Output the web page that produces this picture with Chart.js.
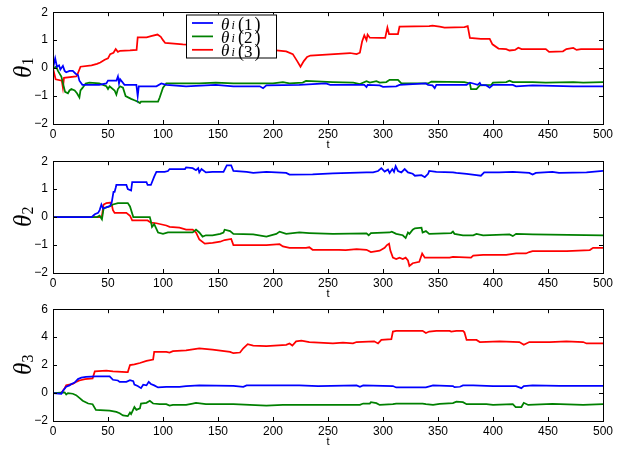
<!DOCTYPE html>
<html>
<head>
<meta charset="utf-8">
<script src="https://cdn.jsdelivr.net/npm/chart.js@4"></script>
<style>
  body { margin: 0; background: #fff; }
  #wrap { position: relative; width: 624px; height: 450px; }
  #wrap canvas { position: absolute; left: 0; }
</style>
</head>
<body>
<div id="wrap">
  <canvas id="c1" width="624" height="150" style="top:0px"></canvas>
  <canvas id="c2" width="624" height="150" style="top:149px"></canvas>
  <canvas id="c3" width="624" height="150" style="top:297px"></canvas>
</div>
<script>
// series colours, same order in every panel: theta_i(1), theta_i(2), theta_i(3)
const COLORS = ['#0000ff', '#008000', '#ff0000'];
const LEGEND_INDEX = ['1', '2', '3'];
const Y_SUBSCRIPTS = ['1', '2', '3'];

// [t, value] breakpoints
const theta1_1 = [[0,0],[2,0.35],[3.6,0.05],[5.5,0.1],[6.7,-0.05],[9,0.08],[10.6,-0.1],[12,-0.15],[15,-0.1],[18,-0.1],[20.6,-0.2],[22.7,-0.25],[24,-0.45],[26.7,-0.6],[42,-0.6],[48.5,-0.55],[50,-0.45],[57.6,-0.45],[59,-0.3],[60,-0.55],[61,-0.4],[65,-0.6],[75.8,-0.6],[77,-1.0],[78,-0.65],[94,-0.65],[98.5,-0.55],[103,-0.6],[121,-0.65],[148,-0.6],[164,-0.65],[188,-0.65],[191,-0.72],[194,-0.62],[224,-0.6],[248,-0.55],[252,-0.6],[283,-0.6],[285,-0.68],[286,-0.6],[297,-0.62],[300,-0.67],[312,-0.65],[315,-0.6],[339,-0.55],[341,-0.6],[345,-0.62],[347,-0.72],[348.5,-0.6],[376,-0.6],[379,-0.52],[382,-0.55],[386,-0.6],[388,-0.53],[389,-0.6],[394,-0.62],[397,-0.7],[400,-0.6],[418,-0.6],[421,-0.65],[436,-0.62],[473,-0.65],[500,-0.65]];
const theta1_2 = [[0,0],[3,0.05],[4.5,-0.1],[7.6,-0.3],[9.7,-0.65],[11,-0.85],[13.6,-0.9],[15,-0.8],[16.7,-0.75],[19.7,-0.8],[21.8,-0.9],[24,-1.05],[25,-0.8],[27,-0.7],[29.7,-0.55],[33,-0.52],[42,-0.55],[48.5,-0.65],[50,-0.75],[51.5,-0.65],[56,-0.8],[57.6,-0.95],[59,-0.75],[61,-0.65],[63.6,-0.7],[66,-1.0],[71,-1.1],[74,-1.15],[77,-1.2],[79,-1.25],[80,-1.2],[95.5,-1.2],[97,-1.05],[100,-0.7],[103,-0.55],[133,-0.55],[148,-0.52],[164,-0.55],[200,-0.55],[209,-0.5],[215,-0.55],[227,-0.52],[230,-0.46],[254,-0.5],[273,-0.52],[279,-0.57],[285,-0.47],[288,-0.52],[294,-0.47],[297,-0.52],[303,-0.5],[306,-0.42],[313.6,-0.42],[316.7,-0.55],[341,-0.55],[344,-0.48],[374,-0.5],[379,-0.55],[380,-0.75],[385,-0.75],[388,-0.62],[398.5,-0.6],[400,-0.52],[412,-0.5],[415,-0.45],[418,-0.5],[436,-0.5],[448,-0.52],[473,-0.5],[482,-0.52],[500,-0.5]];
const theta1_3 = [[0,0],[2.4,-0.4],[8,-0.45],[9,-0.7],[10,-0.35],[21,-0.3],[22,-0.25],[25,0.05],[35,0.1],[40,0.15],[43,0.2],[47,0.3],[50,0.35],[52,0.5],[55,0.55],[57,0.68],[59,0.58],[61,0.62],[70,0.63],[76,0.65],[77,1.1],[85,1.1],[90,1.15],[95,1.2],[98,1.12],[100,1.0],[102,0.9],[110,0.88],[118,0.85],[150,0.78],[180,0.7],[203,0.63],[212,0.6],[218,0.5],[222,0.25],[225,0.05],[228,0.25],[231,0.4],[234,0.45],[270,0.54],[276,0.5],[279,0.55],[281,0.95],[283,1.17],[285,1.0],[286,1.2],[288,1.09],[298,1.08],[302,1.08],[304,1.45],[305.5,1.22],[313.6,1.22],[315,1.48],[342,1.5],[345,1.52],[351.5,1.48],[356,1.45],[374,1.47],[377,1.5],[379,1.08],[389,1.05],[397,1.05],[399.5,0.85],[405,0.7],[412,0.68],[415,0.63],[420,0.65],[423,0.73],[426,0.68],[448,0.68],[451,0.58],[463.6,0.6],[466.7,0.68],[473,0.72],[476,0.65],[480,0.68],[500,0.68]];

const theta2_1 = [[0,0],[35,0],[36,0.03],[38,0.1],[41,0.15],[42.4,0.25],[44,0.45],[45.5,0.3],[48.5,0.35],[52,0.4],[53.5,0.55],[55,0.9],[56,0.9],[57,1.05],[57.6,1.15],[66.7,1.15],[68,1.0],[71,0.95],[72,1.25],[85,1.25],[86,1.15],[89,1.15],[92,1.45],[94,1.62],[101.5,1.62],[104.5,1.65],[106,1.72],[120,1.72],[121,1.78],[127,1.75],[130,1.68],[132,1.75],[133,1.6],[135,1.72],[139,1.6],[145,1.62],[155,1.62],[158,1.85],[162,1.85],[164,1.65],[176,1.62],[182,1.58],[194,1.62],[203,1.6],[212,1.58],[215,1.52],[236,1.53],[254.5,1.56],[285,1.6],[291,1.6],[295.5,1.65],[298.5,1.75],[301.5,1.63],[304.5,1.7],[306,1.58],[308.5,1.72],[310,1.62],[311.5,1.82],[313.6,1.65],[316.7,1.6],[319.7,1.72],[322.7,1.6],[327,1.55],[329,1.48],[335,1.5],[338,1.43],[341,1.55],[342,1.65],[348.5,1.62],[363.6,1.6],[366.7,1.58],[376,1.55],[385,1.5],[389,1.48],[392,1.6],[405.5,1.6],[418,1.62],[433,1.58],[436,1.52],[439,1.58],[454,1.62],[460,1.58],[485,1.6],[500,1.65]];
const theta2_2 = [[0,0],[40,0],[42.4,0.05],[44.5,-0.08],[46,0.3],[48.5,0.35],[51.5,0.38],[54.5,0.45],[59,0.5],[68,0.5],[70,0.38],[73,0],[88,0],[89,-0.15],[90,-0.35],[92,-0.25],[95.5,-0.55],[100,-0.6],[104.5,-0.55],[127,-0.55],[130,-0.45],[133,-0.55],[136,-0.7],[139,-0.65],[145,-0.65],[152,-0.6],[155,-0.55],[156,-0.45],[161,-0.5],[164,-0.6],[182,-0.62],[194,-0.7],[203,-0.6],[206,-0.52],[212,-0.6],[224,-0.55],[233,-0.57],[254.5,-0.6],[285,-0.58],[287,-0.65],[289,-0.57],[306,-0.55],[308,-0.52],[312,-0.6],[318,-0.65],[320.6,-0.75],[322.7,-0.55],[324,-0.6],[327,-0.45],[329,-0.4],[335,-0.38],[336,-0.55],[339,-0.5],[342,-0.6],[362,-0.57],[363.6,-0.52],[365,-0.6],[372.7,-0.65],[382,-0.65],[385,-0.6],[391,-0.65],[415,-0.62],[418,-0.68],[421,-0.6],[436,-0.62],[500,-0.65]];
const theta2_3 = [[0,0],[44,0],[44.5,0.05],[46,0.45],[48.5,0.5],[53,0.52],[54.5,0.25],[56,0.15],[66.7,0.15],[70,0.05],[72,-0.12],[86,-0.12],[89,-0.2],[94,-0.22],[103,-0.3],[106,-0.35],[115,-0.38],[121,-0.45],[127,-0.45],[130,-0.55],[133,-0.8],[138,-0.95],[145,-0.92],[152,-0.88],[156,-0.82],[162,-0.78],[164,-1.0],[194,-1.0],[206,-0.97],[209,-1.05],[215,-1.1],[230,-1.1],[233,-1.08],[236,-1.17],[260,-1.17],[266,-1.18],[276,-1.15],[285,-1.17],[289,-1.25],[297,-1.2],[301.5,-1.1],[303.6,-1.0],[305.5,-0.95],[306.7,-1.2],[309,-1.45],[312,-1.5],[315,-1.45],[318,-1.5],[320.6,-1.45],[322.7,-1.55],[324,-1.75],[327,-1.65],[333,-1.6],[335.6,-1.3],[338,-1.45],[360.6,-1.45],[363.6,-1.42],[380,-1.45],[382,-1.38],[391,-1.35],[412,-1.35],[421,-1.3],[430,-1.3],[433,-1.25],[436,-1.22],[467,-1.22],[488,-1.18],[491,-1.1],[500,-1.1]];

const theta3_1 = [[0,0],[7.6,-0.05],[9,0.15],[12,0.45],[15,0.55],[16.7,0.65],[19.7,0.75],[22.7,1.0],[25.8,1.1],[30,1.15],[39,1.2],[51.5,1.2],[54.5,0.95],[59,0.9],[60.6,0.8],[66.7,0.8],[70,0.92],[73,0.85],[74,0.6],[77,0.5],[80,0.35],[82,0.6],[85,0.55],[87,0.8],[89,0.65],[92,0.55],[95.5,0.4],[103,0.45],[115,0.45],[121,0.5],[133,0.55],[164,0.52],[173,0.45],[176,0.55],[194,0.55],[224,0.55],[241,0.5],[276,0.55],[279,0.45],[282,0.55],[309,0.5],[312,0.4],[339,0.4],[345.5,0.55],[363.6,0.5],[365,0.42],[370,0.45],[372.7,0.55],[382,0.55],[400,0.5],[421,0.5],[425.8,0.35],[428,0.5],[436,0.55],[460.6,0.52],[500,0.52]];
const theta3_2 = [[0,0],[10.6,0.05],[12,-0.1],[13.6,0],[18,-0.05],[21,-0.15],[24,-0.35],[27,-0.55],[32,-0.75],[36,-0.8],[39,-1.2],[51.5,-1.25],[57.6,-1.35],[60.6,-1.45],[63.6,-1.6],[68,-1.65],[70,-1.4],[71,-1.5],[74,-1.0],[75.8,-1.2],[79,-1.1],[80,-0.75],[85,-0.7],[88,-0.55],[91,-0.75],[97,-0.8],[103,-0.8],[106,-0.9],[109,-0.85],[121,-0.85],[127,-0.75],[130,-0.7],[139,-0.8],[164,-0.8],[194,-0.9],[209,-0.85],[254.5,-0.85],[279,-0.85],[282,-0.75],[288,-0.75],[289,-0.65],[294,-0.72],[297,-0.85],[309,-0.8],[312,-0.75],[336,-0.75],[339,-0.8],[345.5,-0.85],[351.5,-0.78],[363.6,-0.72],[366.7,-0.62],[372.7,-0.65],[376,-0.8],[394,-0.8],[400,-0.85],[418,-0.8],[420.6,-1.0],[425.8,-1.0],[428,-0.7],[432,-0.85],[454,-0.78],[482,-0.85],[500,-0.8]];
const theta3_3 = [[0,0],[7.6,0],[10.6,0.35],[12,0.55],[18,0.65],[21,0.8],[24,0.9],[29,1.0],[36,1.05],[38,1.55],[48.5,1.6],[54.5,1.55],[66.7,1.5],[68,1.5],[70,2.0],[74,2.05],[79,2.15],[85,2.3],[91,2.4],[92,2.95],[103,2.95],[106,2.9],[109,3.0],[121,3.05],[133,3.2],[145,3.1],[161,2.95],[164,2.85],[170,2.9],[173,3.2],[177,3.5],[182,3.4],[194,3.35],[212,3.45],[215,3.55],[217.6,3.4],[221,3.7],[225.8,3.75],[233,3.65],[254.5,3.55],[263.6,3.6],[272.7,3.55],[276,3.65],[292,3.7],[295.5,3.55],[298.5,3.8],[307.6,3.85],[309,4.4],[312,4.45],[336,4.45],[339,4.3],[342,4.4],[348.5,4.45],[360.6,4.45],[362,4.4],[366.7,4.45],[372.7,4.45],[374,4.35],[376,3.8],[385,3.8],[388,3.65],[406,3.7],[424,3.65],[428,3.45],[433,3.65],[451.5,3.65],[466.7,3.7],[482,3.65],[485,3.55],[500,3.55]];

// y ranges per panel: [min, max, step]
const Y_RANGES = [[-2, 2, 1], [-2, 2, 1], [-2, 6, 2]];

function fmt(v) {
  return v < 0 ? '\u2212' + (-v) : String(v);
}

// box around the plot with matplotlib-style inward ticks on all four sides
const frameTicks = {
  id: 'frameTicks',
  afterDatasetsDraw(chart) {
    const { ctx, chartArea: a, scales: { x, y } } = chart;
    const len = 4;
    ctx.save();
    ctx.strokeStyle = '#000';
    ctx.lineWidth = 1;
    ctx.strokeRect(Math.round(a.left) + 0.5, Math.round(a.top) + 0.5,
      Math.round(a.right - a.left), Math.round(a.bottom - a.top));
    ctx.beginPath();
    x.ticks.forEach(t => {
      const px = Math.round(x.getPixelForValue(t.value)) + 0.5;
      ctx.moveTo(px, a.bottom); ctx.lineTo(px, a.bottom - len);
      ctx.moveTo(px, a.top); ctx.lineTo(px, a.top + len);
    });
    y.ticks.forEach(t => {
      const py = Math.round(y.getPixelForValue(t.value)) + 0.5;
      ctx.moveTo(a.left, py); ctx.lineTo(a.left + len, py);
      ctx.moveTo(a.right, py); ctx.lineTo(a.right - len, py);
    });
    ctx.stroke();
    ctx.restore();
  }
};

// rotated theta_k label, drawn left of the y tick labels
const yLabel = {
  id: 'yLabel',
  afterDraw(chart, args, opts) {
    const { ctx, chartArea: a } = chart;
    const cy = (a.top + a.bottom) / 2;
    ctx.save();
    ctx.translate(31, cy + 10);
    ctx.rotate(-Math.PI / 2);
    ctx.fillStyle = '#000';
    ctx.textBaseline = 'alphabetic';
    ctx.textAlign = 'left';
    ctx.font = 'italic 25px "Liberation Serif"';
    ctx.fillText('θ', 0, 0);
    ctx.font = '16px "Liberation Serif"';
    ctx.fillText(opts.sub, 12.5, 2);
    ctx.restore();
  }
};

// legend box sitting inside the top panel
const legendBox = {
  id: 'legendBox',
  afterDatasetsDraw(chart) {
    const ctx = chart.ctx;
    const bx = 186, by = 14.5, bw = 90, bh = 43;
    ctx.save();
    ctx.fillStyle = '#fff';
    ctx.fillRect(bx, by, bw, bh);
    ctx.strokeStyle = '#000';
    ctx.lineWidth = 1;
    ctx.strokeRect(bx + 0.5, by + 0.5, bw, bh);
    LEGEND_INDEX.forEach((n, i) => {
      const ry = 23 + i * 13.4;
      ctx.strokeStyle = COLORS[i];
      ctx.lineWidth = 1.75;
      ctx.beginPath();
      ctx.moveTo(192, ry); ctx.lineTo(213, ry);
      ctx.stroke();
      ctx.fillStyle = '#000';
      ctx.textBaseline = 'alphabetic';
      ctx.textAlign = 'left';
      ctx.font = 'italic 17px "Liberation Serif"';
      ctx.fillText('θ', 221, ry + 6.5);
      ctx.font = 'italic 12px "Liberation Serif"';
      ctx.fillText('i', 231.5, ry + 6);
      ctx.font = '18px "Liberation Serif"';
      ctx.fillText('(', 238, ry + 7);
      ctx.font = '17px "Liberation Serif"';
      ctx.fillText(n, 244, ry + 7);
      ctx.font = '18px "Liberation Serif"';
      ctx.fillText(')', 254.5, ry + 7);
    });
    ctx.restore();
  }
};

function makePanel(id, series, range, sub, extra) {
  new Chart(document.getElementById(id), {
    type: 'line',
    data: {
      datasets: series.map((s, i) => ({
        data: s.map(p => ({ x: p[0], y: p[1] })),
        borderColor: COLORS[i],
        borderWidth: 1.75,
        pointRadius: 0,
        tension: 0,
        fill: false
      }))
    },
    options: {
      responsive: false,
      animation: false,
      devicePixelRatio: 1,
      layout: { padding: { top: 12, right: 21, left: 0, bottom: 0 } },
      plugins: { legend: { display: false }, tooltip: { enabled: false }, yLabel: { sub: sub } },
      scales: {
        x: {
          type: 'linear', min: 0, max: 500,
          grid: { display: false, drawTicks: false },
          border: { display: false },
          ticks: {
            stepSize: 50, padding: 3, color: '#000', maxRotation: 0, autoSkip: false,
            font: { family: 'Liberation Sans', size: 12 }
          },
          title: {
            display: true, text: 't', color: '#000',
            font: { family: 'Liberation Sans', size: 11 },
            padding: { top: 0, bottom: -1.5 }
          },
          afterFit: s => { s.height = 26; }
        },
        y: {
          min: range[0], max: range[1],
          grid: { display: false, drawTicks: false },
          border: { display: false },
          ticks: {
            stepSize: range[2], padding: 5, color: '#000',
            font: { family: 'Liberation Sans', size: 12 },
            callback: v => fmt(v)
          },
          afterFit: s => { s.width = 53; }
        }
      }
    },
    plugins: [frameTicks, yLabel].concat(extra || [])
  });
}

makePanel('c1', [theta1_1, theta1_2, theta1_3], Y_RANGES[0], Y_SUBSCRIPTS[0], [legendBox]);
makePanel('c2', [theta2_1, theta2_2, theta2_3], Y_RANGES[1], Y_SUBSCRIPTS[1]);
makePanel('c3', [theta3_1, theta3_2, theta3_3], Y_RANGES[2], Y_SUBSCRIPTS[2]);
</script>
</body>
</html>
